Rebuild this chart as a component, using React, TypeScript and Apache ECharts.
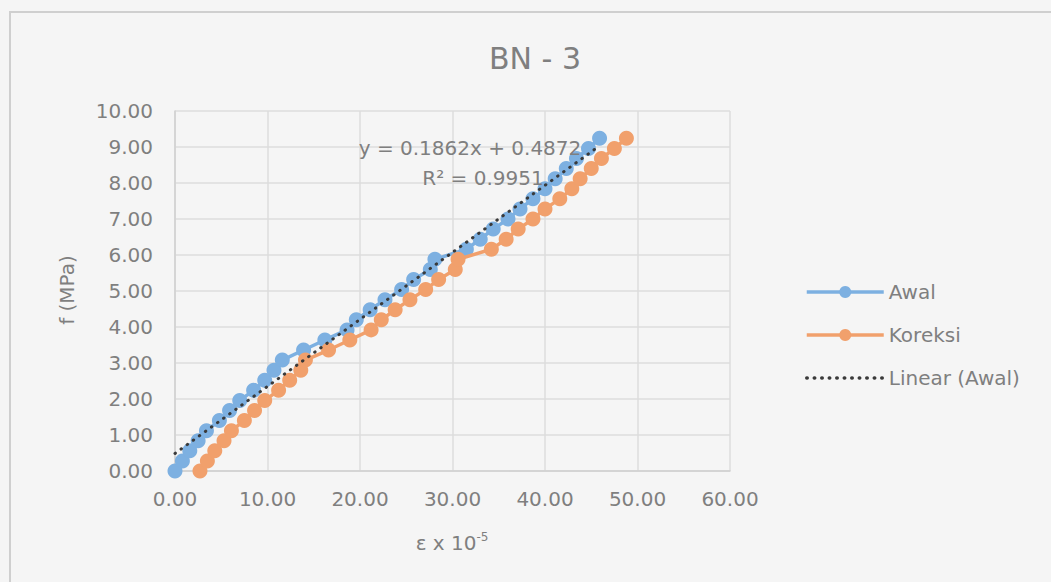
import { useEffect, useRef } from 'react';
import * as echarts from 'echarts';

// f (MPa) values, shared by both series
const stress = [
  0.0, 0.28, 0.56, 0.84, 1.12, 1.4, 1.68, 1.96, 2.24, 2.52, 2.8, 3.08, 3.36, 3.64, 3.92, 4.2, 4.48,
  4.76, 5.04, 5.32, 5.6, 5.88, 6.16, 6.44, 6.72, 7.0, 7.28, 7.56, 7.84, 8.12, 8.4, 8.68, 8.96, 9.24,
];
// strain (x 10^-5), original readings
const strainAwal = [
  0.0, 0.8, 1.6, 2.5, 3.4, 4.8, 5.9, 7.0, 8.5, 9.7, 10.7, 11.6, 13.9, 16.2, 18.6, 19.6, 21.1, 22.7,
  24.5, 25.8, 27.6, 28.1, 31.5, 33.0, 34.4, 36.0, 37.3, 38.7, 40.0, 41.1, 42.3, 43.4, 44.7, 45.9,
];
// strain (x 10^-5), corrected
const strainKoreksi = [
  2.7, 3.5, 4.3, 5.3, 6.1, 7.5, 8.6, 9.7, 11.2, 12.4, 13.6, 14.1, 16.6, 18.9, 21.2, 22.3, 23.8, 25.4,
  27.1, 28.5, 30.3, 30.6, 34.2, 35.8, 37.1, 38.7, 40.0, 41.6, 42.9, 43.8, 45.0, 46.1, 47.5, 48.8,
];
const seriesNames = ['Awal', 'Koreksi', 'Linear (Awal)'];
const trendSlope = 0.1862;
const trendIntercept = 0.4872;
const equationText = 'y = 0.1862x + 0.4872';
const r2Text = 'R² = 0.9951';
const titleText = 'BN - 3';
const yAxisTitle = 'f (MPa)';

const FONT = '"DejaVu Sans", sans-serif';
const GRAY = '#7f7f7f';
const BLUE = '#7db0e1';
const ORANGE = '#f1a06c';
const DARK = '#3a3a3a';

export default function App() {
  const ref = useRef<HTMLDivElement>(null);
  useEffect(() => {
    const chart = echarts.init(ref.current!, null, { renderer: 'svg' });
    const awal = strainAwal.map((x, i) => [x, stress[i]]);
    const koreksi = strainKoreksi.map((x, i) => [x, stress[i]]);
    const x0 = Math.min(...strainAwal);
    const x1 = Math.max(...strainAwal);
    const trend = [
      [x0, trendSlope * x0 + trendIntercept],
      [x1, trendSlope * x1 + trendIntercept],
    ];
    chart.setOption({
      animation: false,
      backgroundColor: '#f5f5f5',
      textStyle: { fontFamily: FONT },
      grid: { left: 175, right: 321, top: 111, bottom: 111, containLabel: false },
      xAxis: {
        type: 'value',
        min: 0,
        max: 60,
        interval: 10,
        axisLine: { show: true, lineStyle: { color: '#d0d0d0', width: 1.5 } },
        axisTick: { show: false },
        splitLine: { show: true, lineStyle: { color: '#dcdcdc', width: 1.5 } },
        axisLabel: {
          formatter: (v: number) => v.toFixed(2),
          color: GRAY,
          fontFamily: FONT,
          fontSize: 20,
          margin: 18,
        },
      },
      yAxis: {
        type: 'value',
        min: 0,
        max: 10,
        interval: 1,
        axisLine: { show: true, lineStyle: { color: '#d0d0d0', width: 1.5 } },
        axisTick: { show: false },
        splitLine: { show: true, lineStyle: { color: '#dcdcdc', width: 1.5 } },
        axisLabel: {
          formatter: (v: number) => v.toFixed(2),
          color: GRAY,
          fontFamily: FONT,
          fontSize: 20,
          margin: 22,
        },
      },
      legend: {
        data: [
          { name: seriesNames[0] },
          { name: seriesNames[1] },
          { name: seriesNames[2], itemStyle: { opacity: 0 } },
        ],
        orient: 'vertical',
        left: 800,
        top: 277,
        itemWidth: 77,
        itemHeight: 15,
        itemGap: 23,
        lineStyle: { width: 3.5 },
        textStyle: { color: GRAY, fontFamily: FONT, fontSize: 20 },
      },
      graphic: [
        {
          type: 'rect',
          silent: true,
          z: -10,
          shape: { x: 10, y: 12, width: 1100, height: 700 },
          style: { fill: 'none', stroke: '#cfcfcf', lineWidth: 2 },
        },
        {
          type: 'text',
          x: 535,
          y: 58,
          style: {
            text: titleText,
            fill: GRAY,
            font: `30px ${FONT}`,
            textAlign: 'center',
            textVerticalAlign: 'middle',
          },
        },
        {
          type: 'text',
          x: 67,
          y: 290,
          rotation: Math.PI / 2,
          style: {
            text: yAxisTitle,
            fill: GRAY,
            font: `20px ${FONT}`,
            textAlign: 'center',
            textVerticalAlign: 'middle',
          },
        },
        {
          type: 'text',
          x: 452,
          y: 543,
          style: {
            text: '{a|ε x 10}{s|-5}',
            textAlign: 'center',
            textVerticalAlign: 'middle',
            rich: {
              a: { fill: GRAY, fontFamily: FONT, fontSize: 20 },
              s: { fill: GRAY, fontFamily: FONT, fontSize: 12, padding: [0, 0, 12, 0] },
            },
          },
        },
        {
          type: 'text',
          x: 470,
          y: 148,
          z: 20,
          style: {
            text: equationText,
            fill: GRAY,
            font: `20px ${FONT}`,
            textAlign: 'center',
            textVerticalAlign: 'middle',
          },
        },
        {
          type: 'text',
          x: 483,
          y: 178,
          z: 20,
          style: {
            text: r2Text,
            fill: GRAY,
            font: `20px ${FONT}`,
            textAlign: 'center',
            textVerticalAlign: 'middle',
          },
        },
      ],
      series: [
        {
          name: seriesNames[0],
          type: 'line',
          data: awal,
          symbol: 'circle',
          symbolSize: 15,
          color: BLUE,
          lineStyle: { width: 3.5, color: BLUE },
          itemStyle: { color: BLUE },
          emphasis: { disabled: true },
          z: 2,
        },
        {
          name: seriesNames[1],
          type: 'line',
          data: koreksi,
          symbol: 'circle',
          symbolSize: 15,
          color: ORANGE,
          lineStyle: { width: 3.5, color: ORANGE },
          itemStyle: { color: ORANGE },
          emphasis: { disabled: true },
          z: 3,
        },
        {
          name: seriesNames[2],
          type: 'line',
          data: trend,
          symbol: 'none',
          color: DARK,
          lineStyle: { width: 3, color: DARK, type: [0.5, 7], cap: 'round' },
          emphasis: { disabled: true },
          z: 4,
        },
      ],
    });
    return () => chart.dispose();
  }, []);
  return (
    <div
      ref={ref}
      style={{ position: 'fixed', left: 0, top: 0, width: 1051, height: 582 }}
    />
  );
}
